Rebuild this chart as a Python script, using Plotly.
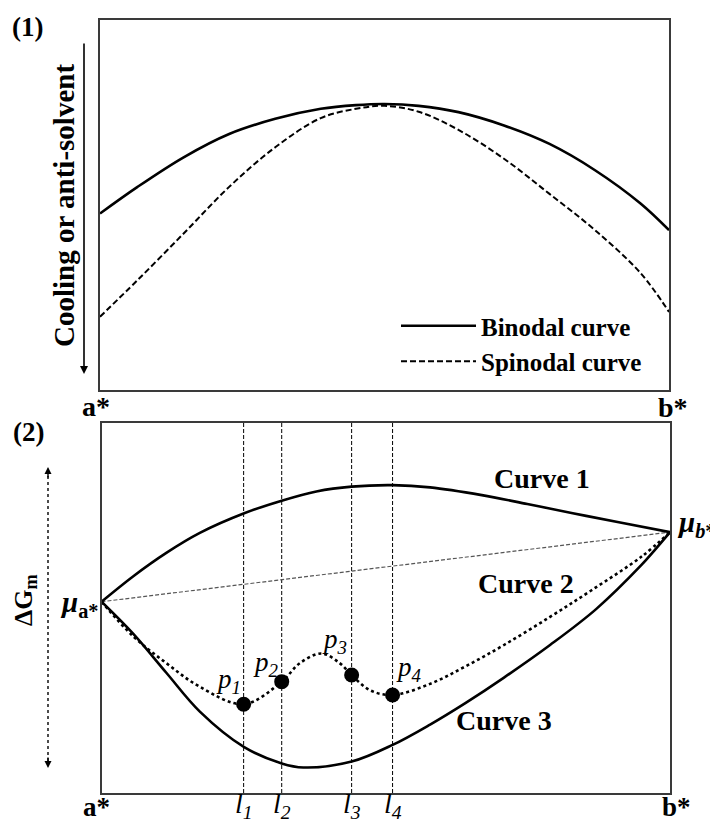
import plotly.graph_objects as go

# ---------------- Panel (1): binodal / spinodal ----------------
comp_top = [0, 0.066, 0.147, 0.227, 0.308, 0.388, 0.45, 0.50, 0.56, 0.63, 0.71, 0.79, 0.87, 0.95, 1.0]
binodal = [0.477, 0.549, 0.629, 0.692, 0.733, 0.760, 0.770, 0.773, 0.768, 0.751, 0.715, 0.665, 0.594, 0.504, 0.432]
spinodal = [0.198, 0.297, 0.423, 0.549, 0.656, 0.735, 0.760, 0.768, 0.752, 0.703, 0.625, 0.530, 0.432, 0.316, 0.211]

# ---------------- Panel (2): free energy of mixing ----------------
curve1_x = [0, 0.056, 0.114, 0.173, 0.251, 0.317, 0.378, 0.440, 0.512, 0.578, 0.669, 0.749, 0.829, 0.910, 1.0]
curve1_y = [0.517, 0.586, 0.649, 0.703, 0.756, 0.790, 0.815, 0.828, 0.832, 0.826, 0.805, 0.781, 0.756, 0.732, 0.705]

curve3_x = [0, 0.056, 0.114, 0.173, 0.251, 0.317, 0.355, 0.440, 0.512, 0.578, 0.640, 0.708, 0.789, 0.870,
            0.949, 0.975, 1.0]
curve3_y = [0.517, 0.430, 0.325, 0.220, 0.124, 0.080, 0.069, 0.085, 0.130, 0.185, 0.243, 0.312, 0.400, 0.497,
            0.615, 0.660, 0.705]

curve2_x = [0, 0.056, 0.114, 0.173, 0.250, 0.317, 0.349, 0.387, 0.419, 0.440, 0.472, 0.512,
            0.578, 0.640, 0.708, 0.789, 0.862, 0.950, 1.0]
curve2_y = [0.517, 0.423, 0.351, 0.287, 0.240, 0.301, 0.351, 0.377, 0.351, 0.319, 0.278, 0.265,
            0.295, 0.342, 0.400, 0.476, 0.548, 0.639, 0.705]

tie_x = [0, 1.0]
tie_y = [0.517, 0.705]

l_names = ["l<sub>1</sub>", "l<sub>2</sub>", "l<sub>3</sub>", "l<sub>4</sub>"]
l_pos = [0.250, 0.317, 0.440, 0.512]
p_names = ["p<sub>1</sub>", "p<sub>2</sub>", "p<sub>3</sub>", "p<sub>4</sub>"]
p_y = [0.240, 0.301, 0.319, 0.265]
p_label_shift = [(-15, 23), (-16, 18), (-17, 34), (16, 26)]

# The page body adds an 8 px margin; screen coordinates are converted accordingly.
OFF = 8
W, H = 718 - OFF, 824 - OFF
SERIF = "Liberation Serif, Times New Roman, serif"


def px(x):
    return (x - OFF) / W


def py(y):
    return 1 - (y - OFF) / H


fig = go.Figure()

# panel 1
fig.add_trace(go.Scatter(x=comp_top, y=binodal, mode="lines", name="Binodal curve",
                         line=dict(color="black", width=2.6, shape="spline"),
                         xaxis="x", yaxis="y"))
fig.add_trace(go.Scatter(x=comp_top, y=spinodal, mode="lines", name="Spinodal curve",
                         line=dict(color="black", width=2, dash="6px,3px", shape="spline"),
                         xaxis="x", yaxis="y"))

# panel 2
for lx in l_pos:
    fig.add_trace(go.Scatter(x=[lx, lx], y=[0, 1], mode="lines", showlegend=False,
                             line=dict(color="black", width=1, dash="4px,2px"),
                             xaxis="x2", yaxis="y2"))
fig.add_trace(go.Scatter(x=tie_x, y=tie_y, mode="lines", showlegend=False,
                         line=dict(color="#555555", width=1.2, dash="4px,2px"),
                         xaxis="x2", yaxis="y2"))
fig.add_trace(go.Scatter(x=curve1_x, y=curve1_y, mode="lines", showlegend=False,
                         line=dict(color="black", width=2.6, shape="spline"),
                         xaxis="x2", yaxis="y2"))
fig.add_trace(go.Scatter(x=curve3_x, y=curve3_y, mode="lines", showlegend=False,
                         line=dict(color="black", width=2.6, shape="spline"),
                         xaxis="x2", yaxis="y2"))
fig.add_trace(go.Scatter(x=curve2_x, y=curve2_y, mode="lines", showlegend=False,
                         line=dict(color="black", width=2.6, dash="dot", shape="spline"),
                         xaxis="x2", yaxis="y2"))
fig.add_trace(go.Scatter(x=l_pos, y=p_y, mode="markers", showlegend=False,
                         marker=dict(color="black", size=15),
                         cliponaxis=False,
                         xaxis="x2", yaxis="y2"))

axis_common = dict(showgrid=False, zeroline=False, showticklabels=False, ticks="",
                   showline=True, mirror=True, linecolor="#3a3a3a", linewidth=2,
                   range=[0, 1], fixedrange=True)

fig.update_layout(
    width=W, height=H,
    margin=dict(l=0, r=0, t=0, b=0),
    paper_bgcolor="white", plot_bgcolor="white",
    xaxis=dict(domain=[px(100), px(669)], anchor="y", **axis_common),
    yaxis=dict(domain=[py(390), py(20)], anchor="x", **axis_common),
    xaxis2=dict(domain=[px(101.5), px(670)], anchor="y2", **axis_common),
    yaxis2=dict(domain=[py(793), py(423)], anchor="x2", **axis_common),
    showlegend=True,
    legend=dict(x=px(396), y=py(303), xanchor="left", yanchor="top",
                bgcolor="rgba(0,0,0,0)", itemwidth=75, tracegroupgap=0,
                font=dict(family=SERIF, size=25, color="black", weight="bold")),
)

annotations = []


def txt(x, y, s, size=26, angle=0, xanchor="center", yanchor="middle"):
    annotations.append(dict(x=px(x), y=py(y), xref="paper", yref="paper", text=s,
                            showarrow=False, textangle=angle, xanchor=xanchor, yanchor=yanchor,
                            font=dict(family=SERIF, size=size, color="black")))


txt(27, 27, "<b>(1)</b>", 27)
txt(28, 432, "<b>(2)</b>", 27)
txt(64, 206, "<b>Cooling or anti-solvent</b>", 29, angle=-90)
txt(96, 406, "<b>a*</b>", 28)
txt(673, 407, "<b>b*</b>", 28)
txt(96, 807, "<b>a*</b>", 27)
txt(676, 807, "<b>b*</b>", 27)
txt(25, 600, "<b>ΔG<sub>m</sub></b>", 26, angle=-90)
txt(100, 604, "<b><i>μ</i><sub>a*</sub></b>", 29, xanchor="right")
txt(717, 524, "<b><i>μ</i><sub><i>b</i>*</sub></b>", 29, xanchor="right")
txt(542, 479, "<b>Curve 1</b>", 28)
txt(526, 583, "<b>Curve 2</b>", 28)
txt(504, 720, "<b>Curve 3</b>", 28)

# p labels next to the points (positions from data)
for name, lx, ly, (dx, dy) in zip(p_names, l_pos, p_y, p_label_shift):
    annotations.append(dict(x=lx, y=ly, xref="x2", yref="y2", text="<i>" + name + "</i>",
                            showarrow=False, xanchor="center", yanchor="middle",
                            xshift=dx, yshift=dy,
                            font=dict(family=SERIF, size=27, color="black")))

# l labels under the bottom axis (x from data positions)
for name, lx in zip(l_names, l_pos):
    annotations.append(dict(x=lx, y=py(805), xref="x2", yref="paper", text="<i>" + name + "</i>",
                            showarrow=False, xanchor="center", yanchor="middle",
                            font=dict(family=SERIF, size=28, color="black")))

# cooling arrow
annotations.append(dict(x=px(84), y=py(374), ax=0, ay=-332, xref="paper", yref="paper",
                        text="", showarrow=True,
                        arrowhead=2, arrowsize=1, arrowwidth=1.6, arrowcolor="black"))
# double-headed ΔG arrow (heads only, line drawn as dotted shape)
annotations.append(dict(x=px(48), y=py(768), ax=0, ay=-12, xref="paper", yref="paper",
                        text="", showarrow=True,
                        arrowhead=2, arrowsize=1, arrowwidth=1.4, arrowcolor="black"))
annotations.append(dict(x=px(48), y=py(467), ax=0, ay=12, xref="paper", yref="paper",
                        text="", showarrow=True,
                        arrowhead=2, arrowsize=1, arrowwidth=1.4, arrowcolor="black"))

fig.update_layout(annotations=annotations)
fig.add_shape(type="line", xref="paper", yref="paper", x0=px(48), x1=px(48), y0=py(470), y1=py(765),
              line=dict(color="black", width=1.4, dash="dot"))

fig.write_html("out.html")
